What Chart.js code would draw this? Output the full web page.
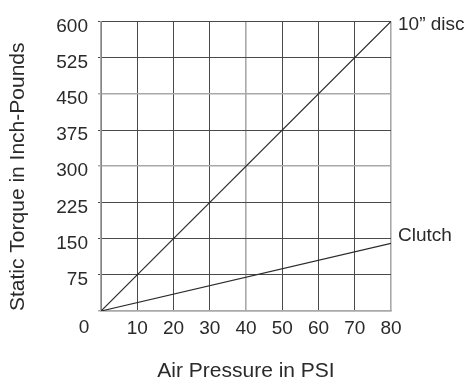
<!DOCTYPE html>
<html>
<head>
<meta charset="utf-8">
<script src="https://cdn.jsdelivr.net/npm/chart.js@4"></script>
<style>
  html, body { margin: 0; padding: 0; background: #fff; }
  #wrap { width: 465px; height: 384px; }
</style>
</head>
<body>
<div id="wrap"><canvas id="c" width="465" height="384"></canvas></div>
<script>
// ---- data ----
const pressurePoints = [0, 80];          // Air pressure (PSI)
const discTorque = [0, 600];             // 10" disc static torque (in-lb)
const clutchTorque = [0, 140];           // Clutch static torque (in-lb)
const seriesNames = ['10\u201D disc', 'Clutch'];
const xTicks = [0, 10, 20, 30, 40, 50, 60, 70, 80];
const yTicks = [0, 75, 150, 225, 300, 375, 450, 525, 600];
const xTitle = 'Air Pressure in PSI';
const yTitle = 'Static Torque in Inch-Pounds';

const FONT = '"Liberation Sans", Arial, sans-serif';
const INK = '#2a2a2a';
const DARK = '#4a4a4a';
const LIGHT = '#a9a9a9';
const lightY = [0, 300, 450];
const lightX = [40, 80];

function toPts(ys) { return pressurePoints.map((x, i) => ({ x: x, y: ys[i] })); }

const endLabels = {
  id: 'endLabels',
  afterDatasetsDraw(chart) {
    const ctx = chart.ctx;
    ctx.save();
    ctx.font = '19px ' + FONT;
    ctx.fillStyle = INK;
    ctx.textAlign = 'left';
    ctx.textBaseline = 'middle';
    const dy = [3, -8];
    chart.data.datasets.forEach((ds, i) => {
      const meta = chart.getDatasetMeta(i);
      const p = meta.data[meta.data.length - 1];
      ctx.fillText(ds.label, p.x + 7, p.y + dy[i]);
    });
    // shared origin label "0"
    const xs = chart.scales.x;
    ctx.textAlign = 'center';
    ctx.fillText(String(xTicks[0]), xs.getPixelForValue(xTicks[0]) - 17, xs.top + 17);
    ctx.restore();
  }
};

new Chart(document.getElementById('c'), {
  type: 'line',
  data: {
    datasets: [
      { label: seriesNames[0], data: toPts(discTorque), borderColor: INK, borderWidth: 1.2, pointRadius: 0, tension: 0 },
      { label: seriesNames[1], data: toPts(clutchTorque), borderColor: INK, borderWidth: 1.2, pointRadius: 0, tension: 0 }
    ]
  },
  plugins: [endLabels],
  options: {
    responsive: false,
    animation: false,
    layout: { padding: { top: 18, right: 74, left: 0, bottom: 0 } },
    plugins: { legend: { display: false }, tooltip: { enabled: false } },
    scales: {
      x: {
        type: 'linear', min: 0, max: 80,
        afterBuildTicks(s) { s.ticks = xTicks.map(v => ({ value: v })); },
        afterFit(s) { s.height = 384 - 311; },
        border: { display: true, color: LIGHT, width: 1.5 },
        grid: {
          drawTicks: false,
          color: c => lightX.includes(c.tick.value) ? LIGHT : DARK,
          lineWidth: c => lightX.includes(c.tick.value) ? 1.6 : 1
        },
        ticks: {
          font: { family: FONT, size: 19 }, color: INK, padding: 6,
          callback: v => v === 0 ? '' : String(v)
        },
        title: { display: true, text: xTitle, font: { family: FONT, size: 21 }, color: INK, padding: { top: 19, bottom: 0 } }
      },
      y: {
        type: 'linear', min: 0, max: 600,
        afterBuildTicks(s) { s.ticks = yTicks.map(v => ({ value: v })); },
        afterFit(s) { s.width = 101; },
        border: { display: true, color: LIGHT, width: 1.6 },
        grid: {
          drawTicks: true, tickLength: 3,
          color: c => lightY.includes(c.tick.value) ? LIGHT : DARK,
          lineWidth: c => lightY.includes(c.tick.value) ? 1.6 : 1
        },
        ticks: {
          font: { family: FONT, size: 19 }, color: INK, padding: 10, labelOffset: 5,
          callback: v => v === 0 ? '' : String(v)
        },
        title: { display: true, text: yTitle, align: 'start', font: { family: FONT, size: 21 }, color: INK, padding: { top: 6, bottom: 4 } }
      }
    }
  }
});
</script>
</body>
</html>
